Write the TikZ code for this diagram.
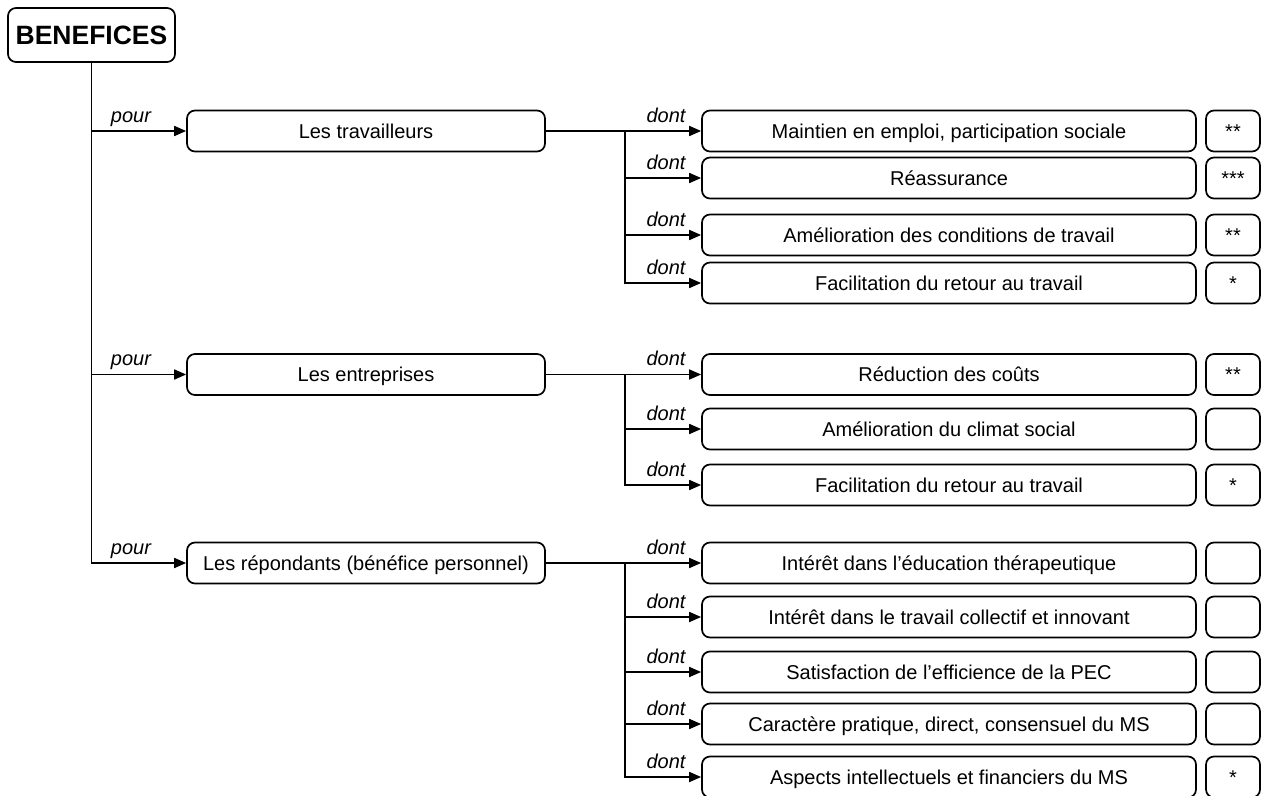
\documentclass[tikz,border=0pt]{standalone}
\usepackage{fontspec}
\setmainfont{Liberation Sans}
\usetikzlibrary{arrows.meta}
\begin{document}
\begin{tikzpicture}[x=1pt,y=-1pt,
  box/.style={draw, line width=1.7pt, rounded corners=8pt, inner sep=0pt,
    align=center, text height=14pt, text depth=0pt,
    font=\fontsize{20}{24}\selectfont},
  catbox/.style={box, minimum width=358pt, minimum height=41pt},
  itembox/.style={box, minimum width=494pt, minimum height=41pt},
  starbox/.style={box, minimum width=54pt, minimum height=41pt},
  trunk/.style={line width=1.7pt},
  link/.style={line width=1.7pt, -{Triangle[length=12pt,width=10pt]}},
  lbl/.style={font=\itshape\fontsize{20}{24}\selectfont, anchor=base, inner sep=0pt}
]
\useasboundingbox (0,0) rectangle (1263,795);

% root
\node[box, font=\bfseries\fontsize{26.5}{30}\selectfont, text height=19pt,
      minimum width=167pt, minimum height=54pt] (root) at (91.5,35) {BENEFICES};

% first level
\node[catbox] (cT) at (366,131)   {Les travailleurs};
\node[catbox] (cE) at (366,374.5) {Les entreprises};
\node[catbox] (cR) at (366,563)   {Les répondants (bénéfice personnel)};

\draw[link] (root.south |- cT.west) -- (cT.west);
\draw[link] (root.south |- cE.west) -- (cE.west);
\draw[link] (root.south) -- (root.south |- cR.west) -- (cR.west);

\node[lbl] (pT) at (131,122)   {pour};
\node[lbl] (pE) at (131,365.5) {pour};
\node[lbl] (pR) at (131,554)   {pour};

% second level: workers
\node[itembox] (t1) at (949,131) {Maintien en emploi, participation sociale};
\node[itembox] (t2) at (949,178) {Réassurance};
\node[itembox] (t3) at (949,235) {Amélioration des conditions de travail};
\node[itembox] (t4) at (949,283) {Facilitation du retour au travail};
\node[starbox] (s1) at (1233,131) {**};
\node[starbox] (s2) at (1233,178) {***};
\node[starbox] (s3) at (1233,235) {**};
\node[starbox] (s4) at (1233,283) {*};

\coordinate (jT) at (625,131);
\draw[link] (cT.east) -- (t1.west);
\draw[link] (jT |- t2.west) -- (t2.west);
\draw[link] (jT |- t3.west) -- (t3.west);
\draw[link] (jT) -- (jT |- t4.west) -- (t4.west);
\node[lbl] (dt1) at (666,122) {dont};
\node[lbl] (dt2) at (666,169) {dont};
\node[lbl] (dt3) at (666,226) {dont};
\node[lbl] (dt4) at (666,274) {dont};

% second level: companies
\node[itembox] (e1) at (949,374.5) {Réduction des coûts};
\node[itembox] (e2) at (949,429)   {Amélioration du climat social};
\node[itembox] (e3) at (949,485)   {Facilitation du retour au travail};
\node[starbox] (u1) at (1233,374.5) {**};
\node[starbox] (u2) at (1233,429)   {};
\node[starbox] (u3) at (1233,485)   {*};

\coordinate (jE) at (625,374.5);
\draw[link] (cE.east) -- (e1.west);
\draw[link] (jE |- e2.west) -- (e2.west);
\draw[link] (jE) -- (jE |- e3.west) -- (e3.west);
\node[lbl] (de1) at (666,365.5) {dont};
\node[lbl] (de2) at (666,420)   {dont};
\node[lbl] (de3) at (666,476)   {dont};

% second level: respondents
\node[itembox] (r1) at (949,563) {Intérêt dans l'éducation thérapeutique};
\node[itembox] (r2) at (949,617) {Intérêt dans le travail collectif et innovant};
\node[itembox] (r3) at (949,672) {Satisfaction de l'efficience de la PEC};
\node[itembox] (r4) at (949,724) {Caractère pratique, direct, consensuel du MS};
\node[itembox] (r5) at (949,777) {Aspects intellectuels et financiers du MS};
\node[starbox] (v1) at (1233,563) {};
\node[starbox] (v2) at (1233,617) {};
\node[starbox] (v3) at (1233,672) {};
\node[starbox] (v4) at (1233,724) {};
\node[starbox] (v5) at (1233,777) {*};

\coordinate (jR) at (625,563);
\draw[link] (cR.east) -- (r1.west);
\draw[link] (jR |- r2.west) -- (r2.west);
\draw[link] (jR |- r3.west) -- (r3.west);
\draw[link] (jR |- r4.west) -- (r4.west);
\draw[link] (jR) -- (jR |- r5.west) -- (r5.west);
\node[lbl] (dr1) at (666,554) {dont};
\node[lbl] (dr2) at (666,608) {dont};
\node[lbl] (dr3) at (666,663) {dont};
\node[lbl] (dr4) at (666,715) {dont};
\node[lbl] (dr5) at (666,768) {dont};
\end{tikzpicture}
\end{document}
